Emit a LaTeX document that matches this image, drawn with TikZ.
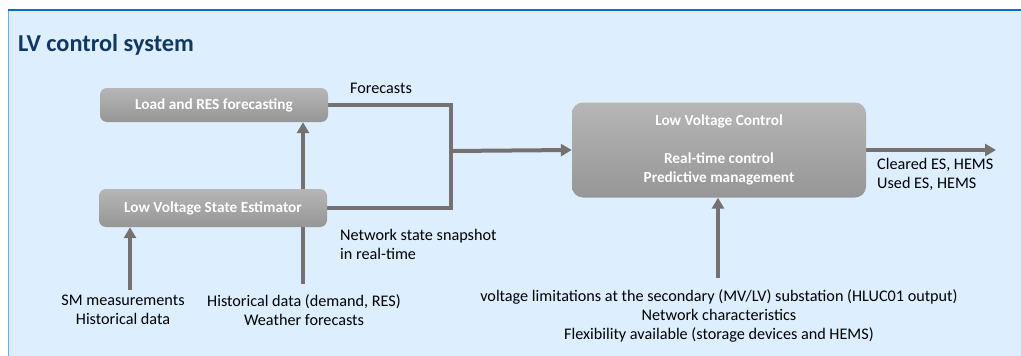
\documentclass[tikz,border=0pt]{standalone}
\usepackage{fontspec}
\setmainfont{Carlito}
\usepackage{tikz}
\usetikzlibrary{arrows.meta, positioning}

\definecolor{panelfill}{RGB}{220,238,255}
\definecolor{panelline}{RGB}{0,112,204}
\definecolor{panelside}{RGB}{110,175,230}
\definecolor{titleblue}{RGB}{16,56,96}
\definecolor{boxtop}{RGB}{182,182,182}
\definecolor{boxbot}{RGB}{150,150,150}
\definecolor{wiregray}{RGB}{118,113,113}

\pgfdeclarelayer{bg}
\pgfsetlayers{bg,main}

\begin{document}
\begin{tikzpicture}[
  x=1pt, y=-1pt,
  block/.style={
    rounded corners=7pt, top color=boxtop, bottom color=boxbot,
    text=white, font=\fontsize{15.3}{19}\selectfont\bfseries, align=center
  },
  lbl/.style={font=\fontsize{16.2}{19}\selectfont, align=center, inner sep=0pt},
  wire/.style={line width=4pt, draw=wiregray},
  arr/.style={wire, -{Triangle[length=11pt, width=12pt]}}
]
\useasboundingbox (0,0) rectangle (1021,356);

% Title
\node[anchor=west, text=titleblue, font=\fontsize{24.3}{28}\selectfont\bfseries, inner sep=0pt] (title) at (18,45) {LV control system};

% 1. Forecasting node
\node[block, minimum width=228pt, minimum height=34pt] (fc) at (214,105) {Load and RES forecasting};

% 2. State estimator node
\node[block, minimum width=228pt, minimum height=38pt] (se) at (213,208) {Low Voltage State Estimator};

% 3. Control node
\node[block, rounded corners=11pt, minimum width=294pt, minimum height=95pt] (lvc) at (719,150) {
  Low Voltage Control \\[19pt]
  Real-time control \\
  Predictive management
};

% Inputs and labels
\node[lbl] (sm) at (123,310) {SM measurements\\Historical data};
\node[lbl] (hist) at (304,310) {Historical data (demand, RES)\\Weather forecasts};
\node[lbl] (lim) at (719,316) {voltage limitations at the secondary (MV/LV) substation (HLUC01 output)\\Network characteristics\\Flexibility available (storage devices and HEMS)};
\node[lbl, anchor=west] (fcl) at (350,88) {Forecasts};
\node[lbl, anchor=north west, align=left] (nsl) at (340,229) {Network state snapshot\\in real-time};
\node[lbl, anchor=north west, align=left] (outl) at (877,158) {Cleared ES, HEMS\\Used ES, HEMS};

\coordinate (jn) at (451,151);
\coordinate (out) at (996,150);
\coordinate (smtop) at (130,290);
\coordinate (histtop) at (303,284);
\coordinate (limtop) at (718,278);

\begin{pgfonlayer}{bg}
  % panel
  \fill[panelfill] (8,10) rectangle (1021,356);
  \draw[panelside, line width=1pt] (8.5,10) -- (8.5,356);
  \draw[panelline, line width=2pt] (8,10) -- (1021,10);

  % Arrows
  \draw[wire] (fc.east) -| (jn);
  \draw[wire] (se.east) -| (jn);
  \draw[arr] (jn) -- (lvc.west);
  \draw[arr] (lvc.east) -- (out);
  \draw[arr] (smtop) -- (smtop |- se.south);
  \draw[arr] (histtop) -- (histtop |- fc.south);
  \draw[arr] (limtop) -- (limtop |- lvc.south);
\end{pgfonlayer}

\end{tikzpicture}
\end{document}
